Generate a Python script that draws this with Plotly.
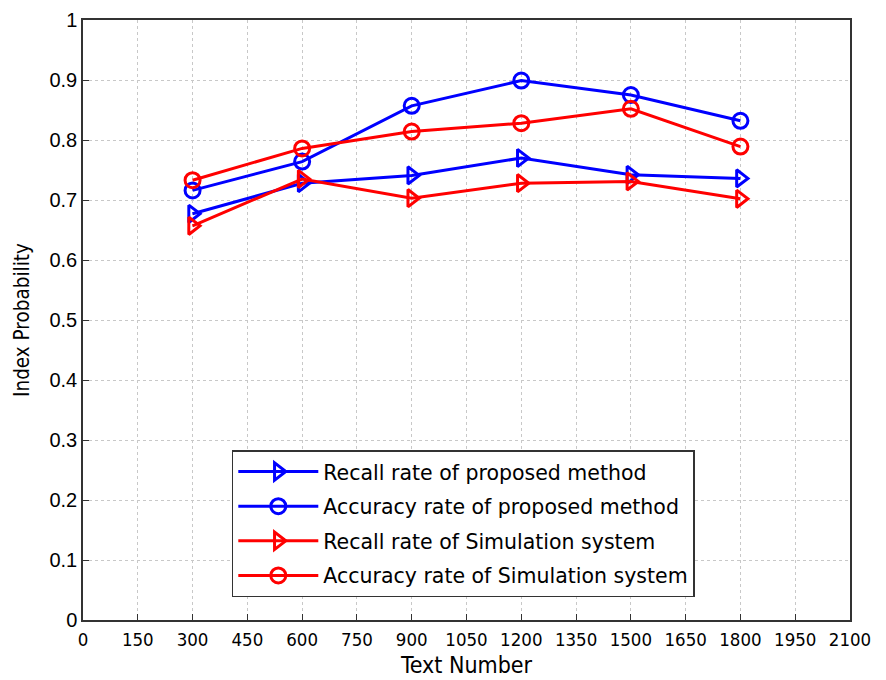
import plotly.graph_objects as go

text_number = [300, 600, 900, 1200, 1500, 1800]
recall_proposed = [0.677, 0.728, 0.741, 0.770, 0.742, 0.736]
accuracy_proposed = [0.716, 0.764, 0.857, 0.899, 0.875, 0.832]
recall_simulation = [0.657, 0.735, 0.703, 0.728, 0.731, 0.702]
accuracy_simulation = [0.733, 0.786, 0.814, 0.828, 0.852, 0.789]

x_ticks = list(range(0, 2101, 150))
y_ticks = [0, 0.1, 0.2, 0.3, 0.4, 0.5, 0.6, 0.7, 0.8, 0.9, 1]
y_tick_text = ["0", "0.1", "0.2", "0.3", "0.4", "0.5", "0.6", "0.7", "0.8", "0.9", "1"]

series = [
    ("Recall rate of proposed method", recall_proposed, "#0000ff", "triangle-right-open"),
    ("Accuracy rate of proposed method", accuracy_proposed, "#0000ff", "circle-open"),
    ("Recall rate of Simulation system", recall_simulation, "#ff0000", "triangle-right-open"),
    ("Accuracy rate of Simulation system", accuracy_simulation, "#ff0000", "circle-open"),
]

fig = go.Figure()
for i, (name, vals, color, sym) in enumerate(series):
    fig.add_trace(go.Scatter(
        x=text_number, y=vals, name=name, mode="lines+markers",
        legendgroup=f"g{i}",
        line=dict(color=color, width=3),
        marker=dict(symbol=sym, size=15, color=color, line=dict(width=3, color=color)),
    ))

axis_common = dict(
    showline=True, linecolor="#333333", linewidth=1.5, mirror=True,
    showgrid=True, gridcolor="#c8c8c8", griddash="dot", gridwidth=1,
    ticks="inside", ticklen=6, tickcolor="#333333", zeroline=False,
    automargin=False, ticklabeloverflow="allow",
)

narrow = "DejaVu Sans Condensed, Liberation Sans"

fig.update_layout(
    width=886, height=680,
    margin=dict(l=75, r=44, t=12, b=68),
    paper_bgcolor="white", plot_bgcolor="white",
    font=dict(family="Liberation Sans", size=20, color="black"),
    xaxis=dict(range=[0, 2100], tickvals=x_ticks,
               tickfont=dict(family=narrow, size=18.5),
               ticklabelstandoff=2,
               title=dict(text="Text Number", font=dict(family=narrow, size=23), standoff=8),
               **axis_common),
    yaxis=dict(range=[0, 1], tickvals=y_ticks, ticktext=y_tick_text,
               tickfont=dict(family="Liberation Sans", size=20),
               title=dict(text="Index Probability", font=dict(family=narrow, size=20.5), standoff=14),
               **axis_common),
    legend=dict(x=0.194, y=0.283, xanchor="left", yanchor="top",
                bgcolor="white", bordercolor="#333333", borderwidth=1.5,
                font=dict(family="DejaVu Sans", size=20.5),
                itemwidth=80, tracegroupgap=5),
    showlegend=True,
)

fig.write_html("out.html")
